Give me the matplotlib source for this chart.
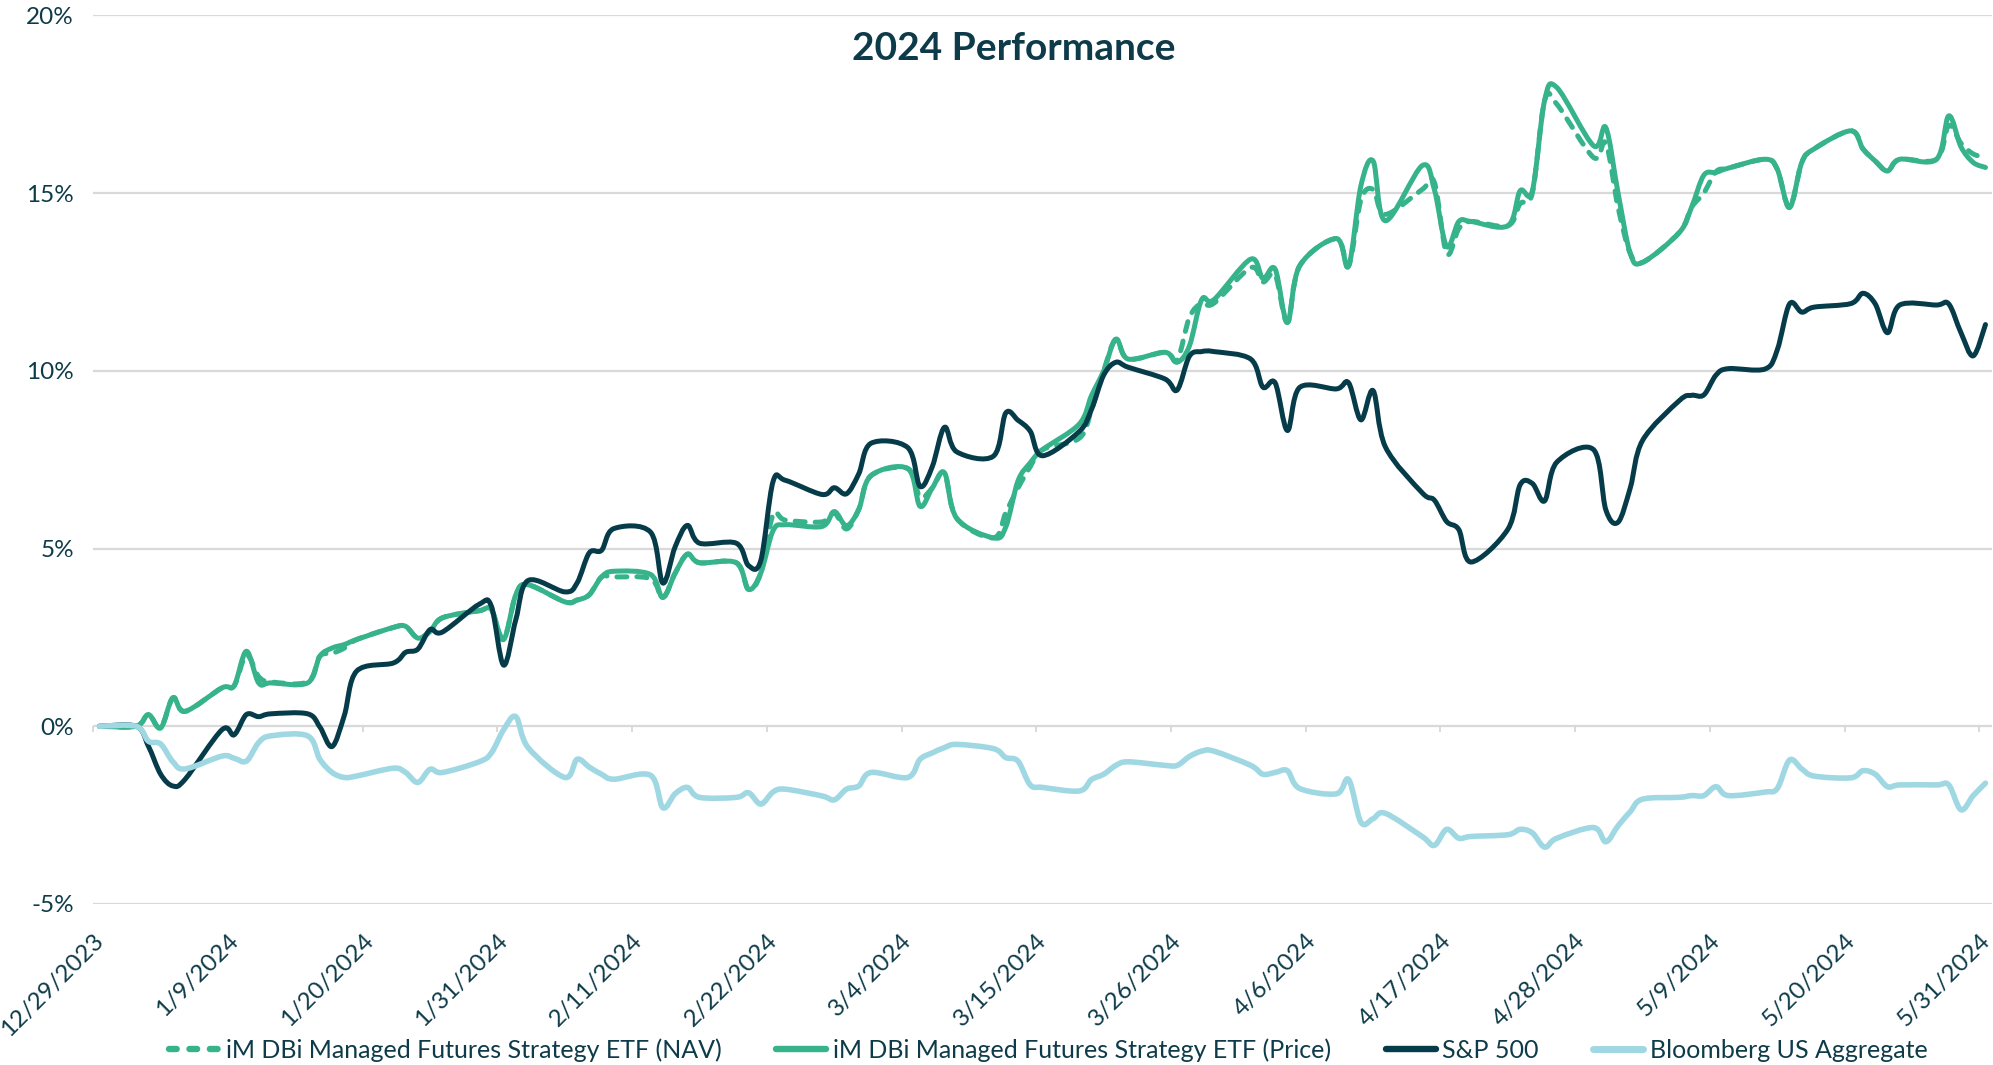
import matplotlib
matplotlib.use("Agg")
import matplotlib.pyplot as plt
import matplotlib.dates as mdates
from matplotlib.path import Path
from matplotlib.patches import PathPatch
from matplotlib.lines import Line2D
from matplotlib.transforms import ScaledTranslation
import pandas as pd

# every weekday from 12/29/2023 to 5/31/2024 (holidays keep the prior value)
DATES = pd.bdate_range("2023-12-29", "2024-05-31")

# cumulative returns, %, one row per month
NAV = [0.00,
       0.00, 0.33, -0.05, 0.80, 0.42, 1.08, 1.14, 2.00, 1.40, 1.25, 1.25,
       1.97, 2.05, 2.20, 2.44, 2.78, 2.81, 2.48, 2.67, 3.05, 3.25, 3.28, 2.44,
       3.70, 3.98, 3.50, 3.55, 3.70, 4.20, 4.20, 4.15, 3.62, 4.30, 4.84,
       4.60, 4.60, 3.85, 4.31, 5.95, 5.80, 5.75, 6.00, 5.55, 6.10,
       7.05, 7.25, 6.45, 6.70, 7.13, 5.85, 5.30, 6.00, 6.70, 7.30, 7.78,
       8.10, 8.90, 10.00, 10.89, 10.33, 10.52, 10.30, 11.50, 11.90, 11.90,
       12.90, 12.50, 12.70, 11.36, 12.95, 13.72, 12.95, 14.80, 15.10, 14.40,
       15.10, 15.30, 13.30, 14.00, 14.20, 14.08, 14.70, 15.00, 17.60, 17.50,
       16.00, 16.40,
       14.60, 13.30, 13.05, 13.89, 14.60, 15.00, 15.60, 15.70, 15.95, 15.67,
       14.59, 15.86, 16.24, 16.75, 16.24, 15.90, 15.62, 15.95, 15.95, 16.90,
       16.40, 16.10, 16.00]

PRICE = [0.00,
         0.00, 0.33, -0.05, 0.80, 0.42, 1.08, 1.14, 2.11, 1.22, 1.22, 1.22,
         1.97, 2.20, 2.30, 2.44, 2.78, 2.81, 2.48, 2.67, 3.05, 3.25, 3.28, 2.44,
         3.70, 3.98, 3.50, 3.55, 3.70, 4.20, 4.36, 4.27, 3.62, 4.30, 4.84,
         4.60, 4.60, 3.85, 4.31, 5.50, 5.67, 5.62, 6.04, 5.64, 6.10,
         7.05, 7.25, 6.19, 6.70, 7.13, 5.85, 5.30, 5.60, 6.90, 7.41, 7.78,
         8.50, 9.30, 10.00, 10.89, 10.33, 10.52, 10.24, 10.70, 12.00, 12.00,
         13.14, 12.60, 12.86, 11.36, 12.95, 13.72, 12.95, 15.20, 15.90, 14.22,
         15.77, 15.10, 13.50, 14.20, 14.20, 14.08, 15.06, 15.06, 17.60, 17.97,
         16.33, 16.84,
         15.00, 13.30, 13.05, 13.89, 14.60, 15.50, 15.58, 15.70, 15.95, 15.67,
         14.59, 15.86, 16.24, 16.75, 16.24, 15.90, 15.62, 15.95, 15.95, 17.17,
         16.30, 15.86, 15.72]

SP500 = [0.00,
         0.00, -0.56, -1.35, -1.68, -1.49, -0.10, -0.24, 0.33, 0.27, 0.35,
         0.35, -0.02, -0.57, 0.31, 1.55, 1.78, 2.08, 2.17, 2.72, 2.65, 3.43,
         3.38, 1.72,
         3.00, 4.10, 3.78, 4.03, 4.88, 4.95, 5.56, 5.46, 4.03, 5.04, 5.65,
         5.15, 5.15, 4.52, 4.66, 6.88, 6.92, 6.52, 6.71, 6.54, 7.10,
         7.96, 7.84, 6.75, 7.30, 8.41, 7.72, 7.60, 8.81, 8.61, 8.30, 7.61,
         8.29, 8.91, 9.88, 10.24, 10.10, 9.77, 9.46, 10.41, 10.54, 10.54,
         10.33, 9.54, 9.66, 8.32, 9.53, 9.49, 9.66, 8.62, 9.44, 7.86,
         6.57, 6.36, 5.76, 5.53, 4.62, 5.54, 6.79, 6.83, 6.34, 7.43,
         7.78, 6.09,
         5.74, 6.71, 8.04, 9.16, 9.31, 9.32, 9.88, 10.06, 10.05, 10.59,
         11.88, 11.65, 11.79, 11.89, 12.18, 11.88, 11.07, 11.85, 11.85, 11.88,
         11.07, 10.42, 11.30]

AGG = [0.00,
       0.00, -0.42, -0.50, -1.00, -1.20, -0.84, -0.90, -0.98, -0.46, -0.27,
       -0.27, -0.93, -1.30, -1.44, -1.40, -1.18, -1.30, -1.58, -1.21, -1.30,
       -1.00, -0.75, -0.10,
       0.27, -0.60, -1.44, -0.93, -1.15, -1.35, -1.49, -1.38, -2.29, -1.90,
       -1.72, -2.00, -2.00, -1.87, -2.19, -1.85, -1.77, -1.96, -2.07, -1.77,
       -1.68,
       -1.30, -1.44, -0.93, -0.75, -0.60, -0.51, -0.63, -0.88, -0.98, -1.65,
       -1.72, -1.82, -1.50, -1.35, -1.10, -1.00, -1.10, -1.10, -0.85, -0.70,
       -0.70,
       -1.10, -1.35, -1.30, -1.25, -1.75, -1.90, -1.50, -2.70, -2.60, -2.45,
       -3.10, -3.35, -2.90, -3.15, -3.10, -3.05, -2.90, -3.00, -3.40, -3.15,
       -2.85, -3.25,
       -2.80, -2.40, -2.05, -2.00, -1.95, -1.95, -1.70, -1.95, -1.85, -1.75,
       -0.95, -1.20, -1.40, -1.45, -1.25, -1.35, -1.70, -1.65, -1.65, -1.65,
       -2.35, -1.95, -1.60]

SERIES = ["iM DBi Managed Futures Strategy ETF (NAV)",
          "iM DBi Managed Futures Strategy ETF (Price)",
          "S&P 500", "Bloomberg US Aggregate"]
TICK_LABELS = ["12/29/2023", "1/9/2024", "1/20/2024", "1/31/2024", "2/11/2024",
               "2/22/2024", "3/4/2024", "3/15/2024", "3/26/2024", "4/6/2024",
               "4/17/2024", "4/28/2024", "5/9/2024", "5/20/2024", "5/31/2024"]
Y_TICKS = [-5, 0, 5, 10, 15, 20]

GREEN = "#36b38b"
NAVY = "#063c4a"
LIGHT = "#9fd8e3"
TEXT = "#0e3b49"
GRID = "#d9d9d9"

plt.rcParams["font.family"] = ["Lato", "DejaVu Sans"]


def smooth_path(xs, ys):
    # Bezier curve through every point, like a spreadsheet "smoothed line"
    n = len(xs)
    verts, codes = [(xs[0], ys[0])], [Path.MOVETO]
    for i in range(n - 1):
        a = max(i - 1, 0)
        b = min(i + 2, n - 1)
        c1 = (xs[i] + (xs[i + 1] - xs[a]) / 6, ys[i] + (ys[i + 1] - ys[a]) / 6)
        c2 = (xs[i + 1] - (xs[b] - xs[i]) / 6, ys[i + 1] - (ys[b] - ys[i]) / 6)
        verts += [c1, c2, (xs[i + 1], ys[i + 1])]
        codes += [Path.CURVE4] * 3
    return Path(verts, codes)


W, H = 1993, 1065
fig = plt.figure(figsize=(W / 100, H / 100), dpi=100)
ax = fig.add_axes([93.3 / W, 1 - 904 / H, (1991.6 - 93.3) / W, (904 - 15.3) / H])

# points sit in the middle of each day slot
x = list(mdates.date2num(DATES.to_pydatetime()) + 0.5)

# values, colour, width, dash in the plot, dash in the legend
styles = [
    (NAV, GREEN, 3.6, (0, (2.0, 2.0)), (0, (1.2, 2.0))),
    (PRICE, GREEN, 3.6, "solid", "solid"),
    (SP500, NAVY, 3.6, "solid", "solid"),
    (AGG, LIGHT, 4.0, "solid", "solid"),
]
handles = []
for k, (vals, color, lw, ls, leg_ls) in enumerate(styles):
    patch = PathPatch(smooth_path(x, vals), fill=False, edgecolor=color,
                      lw=lw, linestyle=ls, capstyle="round",
                      joinstyle="round", zorder=3 + k)
    ax.add_patch(patch)
    handles.append(Line2D([], [], color=color, lw=lw + 1.0, linestyle=leg_ls,
                          solid_capstyle="round", dash_capstyle="round"))

ax.set_xlim(mdates.date2num(pd.Timestamp("2023-12-29")),
            mdates.date2num(pd.Timestamp("2024-06-01")))
ax.set_ylim(Y_TICKS[0], Y_TICKS[-1])

ax.set_yticks(Y_TICKS)
ax.set_yticklabels([f"{v}%" for v in Y_TICKS])
ax.grid(axis="y", color=GRID, lw=1.6)
ax.set_axisbelow(True)
for s in ax.spines.values():
    s.set_visible(False)

tick_x = mdates.date2num(pd.to_datetime(TICK_LABELS, format="%m/%d/%Y"))
ax.set_xticks(tick_x)
ax.set_xticklabels(TICK_LABELS, rotation=45, ha="right", va="center",
                   rotation_mode="anchor")
ax.tick_params(axis="x", length=0, pad=24, labelsize=17.5, labelcolor=TEXT)
ax.tick_params(axis="y", length=0, pad=14, labelsize=17.5, labelcolor=TEXT)
shift = ScaledTranslation(7 / 100, 0, fig.dpi_scale_trans)
for lbl in ax.get_xticklabels():
    lbl.set_transform(lbl.get_transform() + shift)

# small tick marks hanging off the 0% line
zero_pos = (0 - Y_TICKS[0]) / (Y_TICKS[-1] - Y_TICKS[0])
sec = ax.secondary_xaxis(zero_pos)
sec.set_xticks(tick_x)
sec.set_xticklabels([])
sec.tick_params(axis="x", direction="out", length=4.5, width=1.4, color=GRID)
sec.spines["bottom"].set_visible(False)

fig.text(1014 / W, 1 - 49 / H, "2024 Performance", ha="center", va="center",
         fontsize=28, fontweight="bold", color=TEXT)

fig.legend(handles, SERIES, loc="center", bbox_to_anchor=(0.526, 0.014),
           ncol=4, frameon=False, fontsize=18, labelcolor=TEXT,
           handlelength=2.0, handletextpad=0.25, columnspacing=2.2)

fig.savefig("out.png", dpi=100)
